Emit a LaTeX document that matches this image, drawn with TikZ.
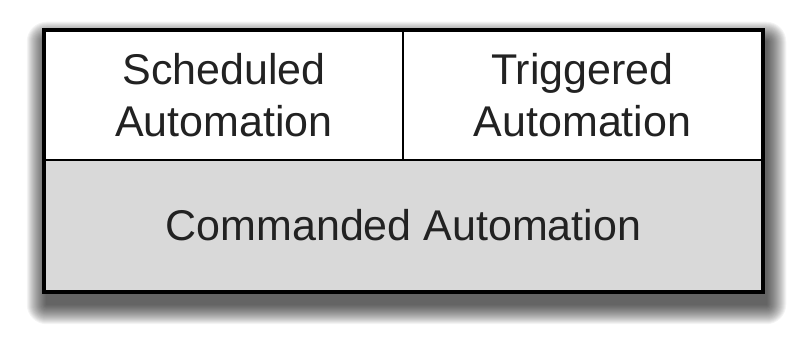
\documentclass[tikz,border=0pt]{standalone}
\usepackage{fontspec}
\setmainfont{Liberation Sans}
\usetikzlibrary{calc}
\usetikzlibrary{positioning}
\usetikzlibrary{backgrounds}

\definecolor{cellgray}{HTML}{D9D9D9}
\definecolor{textgray}{HTML}{222222}

\tikzset{
  cell/.style = {draw, line width = 2.5pt, inner sep = 0pt, align = center,
                 text = textgray, font = {\fontsize{43}{52}\selectfont}},
  frame/.style = {draw, line width = 3pt},
  shade layer/.style = {fill = black, opacity = 0.045}
}

\begin{document}
\begin{tikzpicture}[x = 1pt, y = -1pt]
        \useasboundingbox (0, 0) rectangle (788, 344);

        \node[cell, minimum width = 358pt, minimum height = 129pt] (sched) at (224, 95.5)
              {Scheduled\\Automation};
        \node[cell, minimum width = 359pt, minimum height = 129pt] (trig)  at (582.5, 95.5)
              {Triggered\\Automation};
        \node[cell, fill = cellgray, minimum width = 717pt, minimum height = 131pt] (cmd) at (403.5, 225.5)
              {Commanded Automation};

        \draw[frame] (sched.north west) rectangle (cmd.south east);

        \begin{scope}[on background layer]
          \fill[white] (0, 0) rectangle (788, 344);
          % soft shadow from stacked layers
          \foreach \r in {20, 19, ..., 1}
            \fill[shade layer, rounded corners = \r pt]
              ($(sched.north west) + (3 - \r, 12 - \r)$) rectangle ($(cmd.south east) + (3 + \r, 12 + \r)$);
          \fill[white] (sched.north west) rectangle (cmd.south east);
        \end{scope}
      \end{tikzpicture}
\end{document}
